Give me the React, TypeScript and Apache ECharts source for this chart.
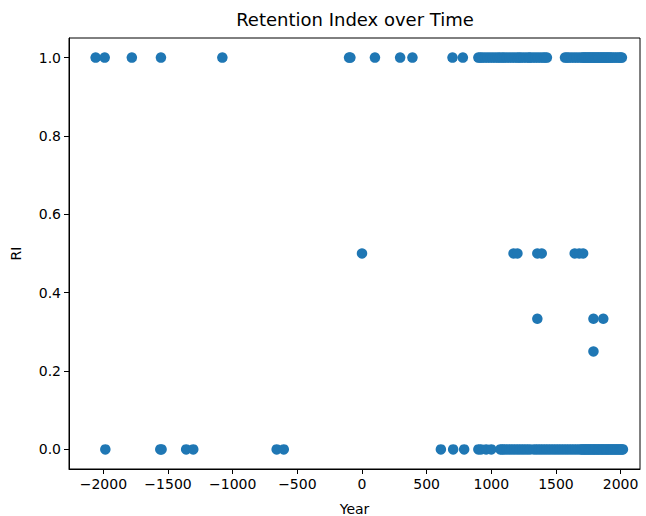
import React, { useEffect, useRef } from "react";
import * as echarts from "echarts";

const yearsRI1 = [
  -2060, -1990, -1780, -1555, -1080, -100, -90, 100, 295, 390, 700, 780,
  900, 915, 930, 950, 970, 990, 1010, 1030, 1050, 1066, 1085, 1100, 1120, 1140,
  1160, 1180, 1200, 1215, 1230, 1250, 1270, 1290, 1300, 1320, 1340, 1360, 1380,
  1400, 1415, 1430, 1570, 1585, 1600, 1620, 1640, 1660, 1680, 1700, 1710, 1720,
  1730, 1740, 1750, 1760, 1770, 1780, 1790, 1800, 1810, 1820, 1830, 1840, 1850,
  1860, 1870, 1880, 1890, 1900, 1910, 1920, 1930, 1945, 1960, 1975, 1990, 2000,
  2010,
];

const yearsRI0 = [
  -1985, -1560, -1550, -1360, -1305, -660, -605, 610, 705, 790, 900, 920, 960,
  1000, 1070, 1085, 1100, 1120, 1140, 1160, 1180, 1200, 1220, 1240, 1260, 1280,
  1300, 1330, 1350, 1370, 1390, 1410, 1430, 1450, 1470, 1490, 1510, 1530, 1550,
  1570, 1590, 1610, 1630, 1650, 1670, 1690, 1700, 1710, 1720, 1730, 1740, 1750,
  1760, 1770, 1780, 1790, 1800, 1810, 1820, 1830, 1840, 1850, 1860, 1870, 1880,
  1890, 1900, 1910, 1920, 1930, 1940, 1950, 1960, 1970, 1980, 1990, 2000, 2010,
  2018,
];

const midYears = [0, 1172, 1202, 1356, 1390, 1645, 1680, 1710, 1356, 1790, 1866, 1790];
const midRI = [0.5, 0.5, 0.5, 0.5, 0.5, 0.5, 0.5, 0.5, 1 / 3, 1 / 3, 1 / 3, 0.25];

const xTicks = [-2000, -1500, -1000, -500, 0, 500, 1000, 1500, 2000];
const yTicks = [0, 0.2, 0.4, 0.6, 0.8, 1.0];

const FONT = "DejaVu Sans";

export default function App() {
  const ref = useRef<HTMLDivElement>(null);
  useEffect(() => {
    if (!ref.current) return;
    const chart = echarts.init(ref.current, null, { renderer: "svg" });
    const data: [number, number][] = [
      ...yearsRI1.map((y) => [y, 1] as [number, number]),
      ...yearsRI0.map((y) => [y, 0] as [number, number]),
      ...midYears.map((y, i) => [y, midRI[i]] as [number, number]),
    ];
    chart.setOption({
      animation: false,
      backgroundColor: "#ffffff",
      title: {
        text: "Retention Index over Time",
        left: 350,
        top: 5,
        textAlign: "center",
        textStyle: { fontFamily: FONT, fontSize: 18, fontWeight: "normal", color: "#000" },
      },
      grid: {
        left: 69,
        right: 6,
        top: 38,
        bottom: 47,
        outerBoundsMode: "none",
        containLabel: false,
        show: true,
        borderColor: "#000",
        borderWidth: 1,
        backgroundColor: "transparent",
      },
      xAxis: {
        type: "value",
        min: -2266,
        max: 2150,
        name: "Year",
        nameLocation: "middle",
        nameGap: 33,
        nameTextStyle: { fontFamily: FONT, fontSize: 14, color: "#000" },
        axisLine: { show: true, onZero: false, lineStyle: { color: "#000", width: 1 } },
        axisTick: {
          show: true,
          length: 5,
          customValues: xTicks,
          lineStyle: { color: "#000", width: 1 },
        },
        axisLabel: {
          customValues: xTicks,
          fontFamily: FONT,
          fontSize: 14,
          color: "#000",
          margin: 8,
          formatter: (v: number) => String(v).replace("-", "\u2212"),
        },
        splitLine: { show: false },
      },
      yAxis: {
        type: "value",
        min: -0.05,
        max: 1.05,
        name: "RI",
        nameLocation: "middle",
        nameGap: 46,
        nameTextStyle: { fontFamily: FONT, fontSize: 14, color: "#000" },
        axisLine: { show: true, onZero: false, lineStyle: { color: "#000", width: 1 } },
        axisTick: {
          show: true,
          length: 5,
          customValues: yTicks,
          lineStyle: { color: "#000", width: 1 },
        },
        axisLabel: {
          customValues: yTicks,
          fontFamily: FONT,
          fontSize: 14,
          color: "#000",
          margin: 8,
          formatter: (v: number) => v.toFixed(1),
        },
        splitLine: { show: false },
      },
      series: [
        {
          type: "scatter",
          data,
          symbol: "circle",
          symbolSize: 10.5,
          itemStyle: { color: "#1f77b4", opacity: 1 },
        },
      ],
    });
    return () => chart.dispose();
  }, []);
  return (
    <div
      ref={ref}
      style={{ position: "fixed", left: 0, top: 0, width: 646, height: 516 }}
    />
  );
}
